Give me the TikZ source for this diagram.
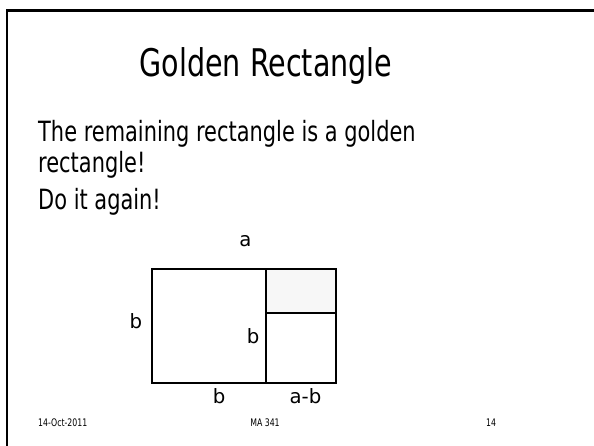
\documentclass[tikz,border=0pt]{standalone}
\usepackage{fontspec}
\setmainfont[FakeStretch=0.75]{DejaVu Sans}
\newfontfamily\labelfont{DejaVu Sans}
\begin{document}
\begin{tikzpicture}[x=1pt,y=-1pt,
  frame/.style={line width=2.5pt,line cap=rect},
  box/.style={draw,line width=2pt},
  titletext/.style={inner sep=0pt,font=\fontsize{38.1}{40}\selectfont},
  bodytext/.style={inner sep=0pt,anchor=base west,font=\fontsize{27.9}{30}\selectfont},
  labeltext/.style={inner sep=0pt,anchor=base,font=\labelfont\fontsize{19.7}{22}\selectfont},
  foottext/.style={inner sep=0pt,anchor=base,font=\fontsize{10.4}{12}\selectfont}]
\useasboundingbox (0,0) rectangle (594,445);
% slide frame
\draw[frame] (7,446) -- (7,10.5) -- (595,10.5);
% title and text
\node[titletext,anchor=base] (title) at (266,76.5) {Golden Rectangle};
\node[bodytext] (l1) at (38,141.7) {The remaining rectangle is a golden};
\node[bodytext] (l2) at (38,172.7) {rectangle!};
\node[bodytext] (l3) at (38,209) {Do it again!};
% diagram
\fill[black!3] (266,269) rectangle (336,313);
\draw[box] (152,269) rectangle (336,383);
\draw[box] (266,269) -- (266,383);
\draw[box] (266,313) -- (336,313);
\node[labeltext] (la) at (245.5,246.7) {a};
\node[labeltext] (lbl) at (136,328.8) {b};
\node[labeltext] (lbi) at (253,343.5) {b};
\node[labeltext] (lbb) at (219,403) {b};
\node[labeltext] (lab) at (305.5,403) {a-b};
% footer
\node[foottext,anchor=base west] (date) at (38,426.5) {14-Oct-2011};
\node[foottext] (course) at (265,426.5) {MA 341};
\node[foottext] (page) at (491,426.5) {14};
\end{tikzpicture}
\end{document}
